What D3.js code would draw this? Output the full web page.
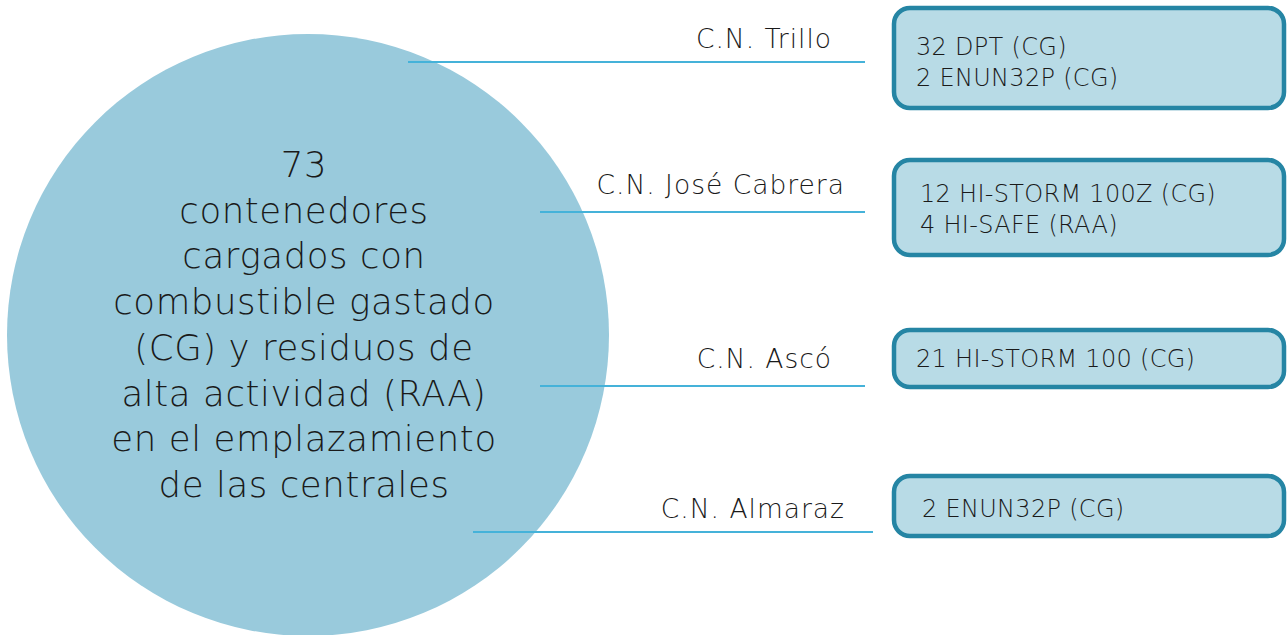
<!DOCTYPE html>
<html>
<head>
<meta charset="utf-8">
<script src="https://cdn.jsdelivr.net/npm/d3@7"></script>
<style>
  html, body { margin: 0; padding: 0; background: #ffffff; }
  svg { display: block; }
  text { font-family: "DejaVu Sans", sans-serif; font-weight: 300; fill: #1a1a1a; }
</style>
</head>
<body>
<svg id="chart" width="1288" height="635"></svg>
<script>
// data
const total = 73;
const centerLines = ["contenedores", "cargados con", "combustible gastado", "(CG) y residuos de", "alta actividad (RAA)", "en el emplazamiento", "de las centrales"];
const plants = ["C.N. Trillo", "C.N. José Cabrera", "C.N. Ascó", "C.N. Almaraz"];
const casks = [
    ["32 DPT (CG)", "2 ENUN32P (CG)"],
    ["12 HI-STORM 100Z (CG)", "4 HI-SAFE (RAA)"],
    ["21 HI-STORM 100 (CG)"],
    ["2 ENUN32P (CG)"]
];

// layout (pixel positions per row)
const layout = [
    {lineY: 62, x0: 408, x1: 865, labelX: 832, labelY: 48, boxY: 8, boxH: 100, textX: 916, textY: 55},
    {lineY: 212, x0: 540, x1: 865, labelX: 845, labelY: 194, boxY: 160, boxH: 95, textX: 920, textY: 202},
    {lineY: 386, x0: 540, x1: 865, labelX: 832, labelY: 368, boxY: 330, boxH: 57, textX: 916, textY: 367},
    {lineY: 532, x0: 473, x1: 873, labelX: 845, labelY: 518, boxY: 476, boxH: 60, textX: 922, textY: 517}
];

const svg = d3.select("#chart");

// circle
const cx = 308, cy = 335, r = 301;
svg.append("circle")
    .attr("cx", cx)
    .attr("cy", cy)
    .attr("r", r)
    .attr("fill", "#99cadc");

const y = d3.scaleLinear().domain([0, 1]).range([177, 222.7]);

const center = svg.append("text")
    .attr("text-anchor", "middle")
    .style("font-size", "35.5px")
    .style("letter-spacing", "0.6px");

center.append("tspan")
    .attr("x", 304)
    .attr("y", y(0))
    .text(total);

center.selectAll(".line")
    .data(centerLines)
    .join("tspan")
    .attr("class", "line")
    .attr("x", 304)
    .attr("y", (d, i) => y(i + 1))
    .text(d => d);

// rows
const rows = svg.selectAll(".row")
    .data(plants.map((p, i) => ({name: p, casks: casks[i], pos: layout[i]})))
    .join("g")
    .attr("class", "row");

rows.append("line")
    .attr("x1", d => d.pos.x0)
    .attr("x2", d => d.pos.x1)
    .attr("y1", d => d.pos.lineY)
    .attr("y2", d => d.pos.lineY)
    .attr("stroke", "#45b2d9")
    .attr("stroke-width", 2);

rows.append("text")
    .attr("x", d => d.pos.labelX)
    .attr("y", d => d.pos.labelY)
    .attr("text-anchor", "end")
    .style("font-size", "26.5px")
    .style("letter-spacing", "1px")
    .text(d => d.name);

rows.append("rect")
    .attr("x", 894)
    .attr("y", d => d.pos.boxY)
    .attr("width", 390)
    .attr("height", d => d.pos.boxH)
    .attr("rx", 16)
    .attr("ry", 16)
    .attr("fill", "#b8dbe6")
    .attr("stroke", "#2585a4")
    .attr("stroke-width", 4.5);

rows.append("text")
    .style("font-size", "24px")
    .style("letter-spacing", "0.3px")
    .selectAll("tspan")
    .data(d => d.casks.map((c, j) => ({c, j, pos: d.pos})))
    .join("tspan")
    .attr("x", d => d.pos.textX)
    .attr("y", d => d.pos.textY + d.j * 31)
    .text(d => d.c);
</script>
</body>
</html>
